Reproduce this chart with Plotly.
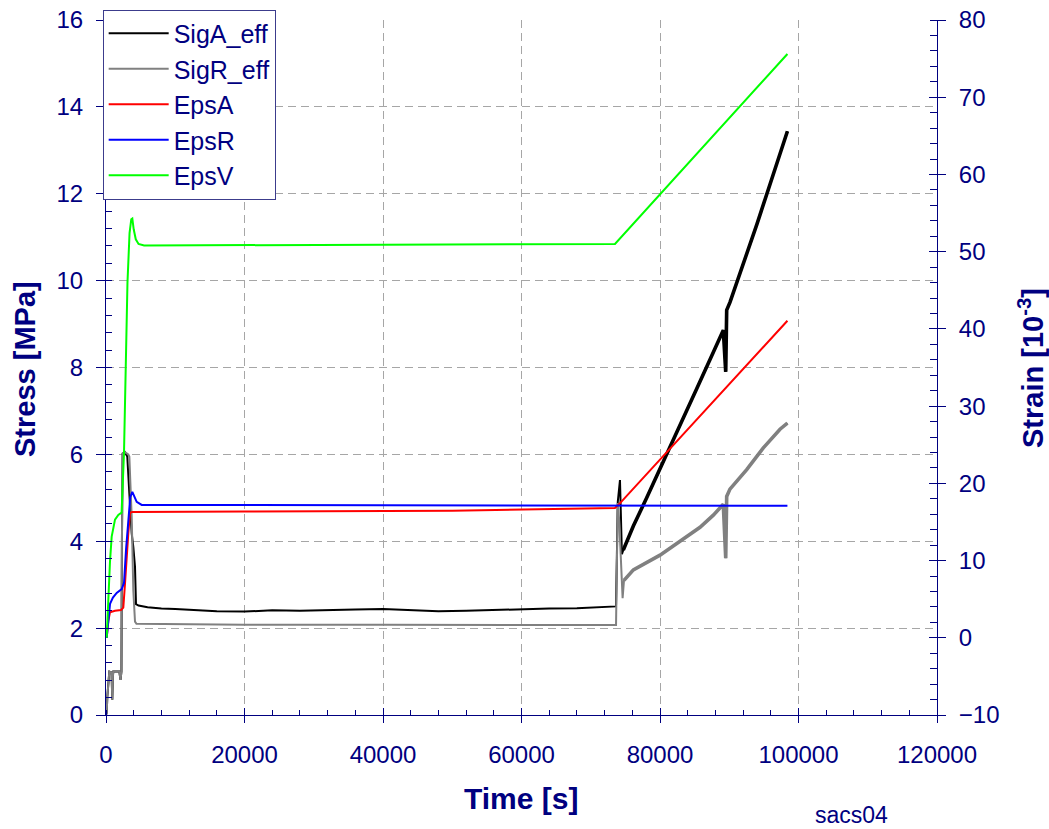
import plotly.graph_objects as go

# ---------------- data ----------------
# Stress series (left axis, MPa)
sigA_t = [0, 100, 190, 480, 800, 910, 1000, 1050, 1500, 1925, 2095, 2230, 2300, 2400, 2740,
          3075, 3370, 3711, 3942, 4188, 4330, 4700, 6000, 8000, 10000, 13000, 16000, 20000,
          24000, 28000, 32000, 36000, 40000, 44000, 48000, 52000, 56000, 60000, 64000, 68000,
          71000, 73650, 73900, 74220, 74500, 74700, 76150, 78080, 79750, 82890, 85300, 87700,
          89140, 89490, 89630, 90100, 94000, 98400]
sigA = [0.0, 0.05, 0.42, 1.0, 0.98, 0.35, 0.9, 1.0, 1.0, 1.0, 0.81, 1.0, 4.0, 6.02, 6.05,
        5.95, 5.1, 4.18, 3.87, 3.41, 2.55, 2.52, 2.48, 2.45, 2.44, 2.41, 2.39, 2.38,
        2.41, 2.40, 2.42, 2.43, 2.44, 2.41, 2.39, 2.40, 2.42, 2.44, 2.45, 2.46,
        2.48, 2.50, 4.9, 5.41, 3.7, 3.8, 4.35, 5.0, 5.57, 6.67, 7.51, 8.35,
        8.86, 7.9, 9.32, 9.5, 11.3, 13.44]

sigR_t = [0, 100, 190, 480, 800, 910, 1000, 1050, 1500, 1925, 2095, 2230, 2300, 2400, 2740,
          3220, 3370, 3711, 3942, 4188, 4400, 20000, 40000, 60000, 73650, 73900, 74100,
          74600, 74800, 76150, 80000, 82890, 85780, 87700, 89140, 89490, 89630, 90100,
          92520, 94920, 97330, 98400]
sigR = [0.0, 0.05, 0.42, 1.0, 0.98, 0.35, 0.9, 1.0, 1.0, 1.0, 0.81, 1.0, 4.0, 6.02, 6.05,
        6.0, 5.95, 4.56, 2.88, 2.15, 2.1, 2.08, 2.08, 2.08, 2.07, 4.88, 4.5,
        2.69, 3.1, 3.34, 3.68, 4.0, 4.32, 4.6, 4.85, 3.61, 5.03, 5.2,
        5.65, 6.15, 6.58, 6.72]

# Strain series (right axis, 10^-3)
epsA_t = [100, 330, 578, 1300, 2170, 2500, 2744, 3000, 3220, 3466, 3800, 20000, 50000,
          73500, 74200, 98400]
epsA = [0, 2.2, 3.3, 3.5, 3.6, 3.9, 7.0, 11.0, 13.5, 16.2, 16.3, 16.35, 16.45,
        16.8, 17.4, 41.06]

epsR_t = [100, 580, 1000, 1545, 2267, 2600, 2900, 3220, 3500, 3800, 4100, 4433, 5155, 98400]
epsR = [0, 4.4, 5.2, 5.8, 6.3, 7.1, 11.5, 15.7, 18.2, 18.9, 18.3, 17.6, 17.2, 17.1]

epsV_t = [100, 330, 578, 820, 1300, 1776, 2250, 2600, 2850, 3100, 3400, 3650, 3800, 4000,
          4300, 4700, 5500, 73500, 98400]
epsV = [0, 5.8, 9.9, 13.1, 15.3, 15.9, 16.2, 24.0, 36.0, 46.0, 52.4, 54.2, 54.3, 52.9,
        51.6, 51.0, 50.8, 51.0, 75.6]

x_range = [0, 120000]
stress_range = [0, 16]
strain_range = [-10, 80]

NAVY = "#000080"
FONT = "Liberation Sans, Arial, sans-serif"


def segment(ts, vs, t0):
    """points of a series from time t0 on (the noisy loading part, drawn as a thicker band)"""
    pts = [(t, v) for t, v in zip(ts, vs) if t >= t0]
    return [p[0] for p in pts], [p[1] for p in pts]


fig = go.Figure()
fig.add_trace(go.Scatter(x=sigA_t, y=sigA, name="SigA_eff", mode="lines", legendgroup="a",
                         line=dict(color="#000000", width=2)))
ax_, ay_ = segment(sigA_t, sigA, 74700)
fig.add_trace(go.Scatter(x=ax_, y=ay_, mode="lines", legendgroup="a", showlegend=False,
                         line=dict(color="#000000", width=3.6), hoverinfo="skip"))
fig.add_trace(go.Scatter(x=sigR_t, y=sigR, name="SigR_eff", mode="lines", legendgroup="r",
                         line=dict(color="#808080", width=2)))
rx_, ry_ = segment(sigR_t, sigR, 74800)
fig.add_trace(go.Scatter(x=rx_, y=ry_, mode="lines", legendgroup="r", showlegend=False,
                         line=dict(color="#808080", width=3.6), hoverinfo="skip"))
fig.add_trace(go.Scatter(x=epsA_t, y=epsA, name="EpsA", mode="lines", yaxis="y2",
                         line=dict(color="#ff0000", width=2)))
fig.add_trace(go.Scatter(x=epsR_t, y=epsR, name="EpsR", mode="lines", yaxis="y2",
                         line=dict(color="#0000ff", width=2)))
fig.add_trace(go.Scatter(x=epsV_t, y=epsV, name="EpsV", mode="lines", yaxis="y2",
                         line=dict(color="#00ff00", width=2)))
# helper trace so the overlay tick axes are drawn
fig.add_trace(go.Scatter(x=[None], y=[None], xaxis="x2", yaxis="y3", showlegend=False,
                         hoverinfo="skip", mode="lines"))

tickfont = dict(family=FONT, size=24, color=NAVY)
grid = dict(showgrid=True, gridcolor="#a6a6a6", gridwidth=1, griddash="8px,5px")

fig.update_layout(
    width=1049, height=829,
    margin=dict(l=106, r=112, t=20, b=114, autoexpand=False),
    paper_bgcolor="white", plot_bgcolor="white",
    font=dict(family=FONT, color=NAVY),
    showlegend=True,
    legend=dict(x=-0.004, y=1.015, xanchor="left", yanchor="top",
                bgcolor="white", bordercolor="#3c3c8c", borderwidth=1,
                font=dict(family=FONT, size=25, color=NAVY),
                itemwidth=60, tracegroupgap=0),
    xaxis=dict(range=x_range, dtick=20000, tick0=0, ticks="outside", ticklen=7,
               tickcolor=NAVY, tickfont=tickfont, showline=True, linecolor=NAVY,
               linewidth=1, zeroline=False, ticklabelstandoff=11, tickformat="d",
               automargin=False,
               minor=dict(dtick=4000, ticks="inside", ticklen=5, tickcolor=NAVY,
                          showgrid=False),
               **grid),
    xaxis2=dict(range=x_range, overlaying="x", anchor="y", dtick=20000, tick0=0,
                ticks="inside", ticklen=7, tickcolor=NAVY, showticklabels=False,
                showgrid=False, showline=False, zeroline=False, automargin=False),
    yaxis=dict(range=stress_range, dtick=2, tick0=0, ticks="outside", ticklen=9,
               tickcolor=NAVY, tickfont=tickfont, showline=True, linecolor=NAVY,
               linewidth=1, zeroline=False, ticklabelstandoff=8, automargin=False,
               minor=dict(dtick=0.4, ticks="inside", ticklen=6, tickcolor=NAVY,
                          showgrid=False),
               **grid),
    yaxis2=dict(range=strain_range, dtick=10, tick0=0, overlaying="y", side="right",
                anchor="x", ticks="outside", ticklen=8, tickcolor=NAVY, tickfont=tickfont,
                showline=True, linecolor=NAVY, linewidth=1, zeroline=False, showgrid=False,
                ticklabelstandoff=8, automargin=False,
                minor=dict(dtick=2, ticks="inside", ticklen=7, tickcolor=NAVY)),
    yaxis3=dict(range=strain_range, dtick=10, tick0=0, overlaying="y", side="right",
                anchor="x", ticks="inside", ticklen=8, tickcolor=NAVY, automargin=False,
                showticklabels=False, showgrid=False, showline=False, zeroline=False),
)

title_font = dict(family=FONT, size=29, color=NAVY)
fig.add_annotation(text="<b>Stress [MPa]</b>", xref="paper", yref="paper",
                   x=(25 - 106) / 831, y=(715 - 369) / 695, textangle=-90,
                   showarrow=False, font=title_font, xanchor="center", yanchor="middle")
fig.add_annotation(text="<b>Strain [10<sup>-3</sup>]</b>", xref="paper", yref="paper",
                   x=(1031 - 106) / 831, y=(715 - 368) / 695, textangle=-90,
                   showarrow=False, font=title_font, xanchor="center", yanchor="middle")
fig.add_annotation(text="<b>Time [s]</b>", xref="paper", yref="paper",
                   x=(521 - 106) / 831, y=(715 - 798) / 695,
                   showarrow=False, font=dict(family=FONT, size=30, color=NAVY),
                   xanchor="center", yanchor="middle")
fig.add_annotation(text="sacs04", xref="paper", yref="paper",
                   x=(851 - 106) / 831, y=(715 - 815) / 695,
                   showarrow=False, font=dict(family=FONT, size=23, color=NAVY),
                   xanchor="center", yanchor="middle")

fig.write_html("out.html")
